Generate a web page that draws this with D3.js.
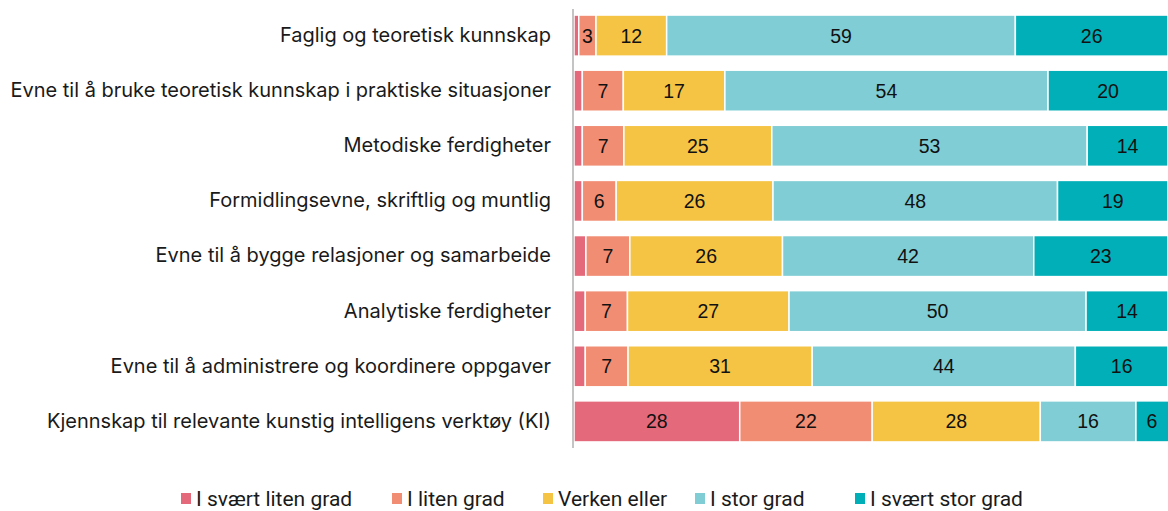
<!DOCTYPE html>
<html><head><meta charset="utf-8">
<script src="https://cdn.jsdelivr.net/npm/d3@7"></script>
<style>body{margin:0;background:#fff}svg{display:block}</style>
</head><body>
<svg id="c" width="1168" height="511"></svg>
<script>
const categories = [
  "Faglig og teoretisk kunnskap",
  "Evne til å bruke teoretisk kunnskap i praktiske situasjoner",
  "Metodiske ferdigheter",
  "Formidlingsevne, skriftlig og muntlig",
  "Evne til å bygge relasjoner og samarbeide",
  "Analytiske ferdigheter",
  "Evne til å administrere og koordinere oppgaver",
  "Kjennskap til relevante kunstig intelligens verktøy (KI)"
];
const seriesNames = ["I svært liten grad","I liten grad","Verken eller","I stor grad","I svært stor grad"];
const sværtLiten = [0.8, 1.4, 1.4, 1.4, 2.0, 1.9, 1.9, 27.9];
const liten      = [2.9, 6.9, 7.0, 5.7, 7.4, 7.1, 7.2, 22.3];
const verken     = [11.9, 17.1, 24.9, 26.4, 25.7, 27.2, 31.0, 28.3];
const stor       = [58.7, 54.4, 53.1, 47.9, 42.3, 50.0, 44.3, 16.1];
const sværtStor  = [25.7, 20.2, 13.6, 18.6, 22.6, 13.8, 15.6, 5.7];
const colors = ["#E46A7B","#F18D72","#F5C444","#80CDD5","#00AFB8"];

const series = [sværtLiten, liten, verken, stor, sværtStor];
const rows = categories.map((c,i)=>{
  const o = {cat:c};
  seriesNames.forEach((s,j)=>o[s]=series[j][i]);
  return o;
});
const stacked = d3.stack().keys(seriesNames)(rows);

const W = 1168;
const svg = d3.select("#c");
const x = d3.scaleLinear().domain([0,100]).range([574,1168]);
const y = d3.scaleBand().domain(categories).range([1,456]).paddingInner(0.255).paddingOuter(0.255);
const color = d3.scaleOrdinal().domain(seriesNames).range(colors);

const g = svg.append("g");
stacked.forEach(layer=>{
  const lg = g.append("g");
  lg.selectAll("rect").data(layer).join("rect")
    .attr("x", d=>x(d[0]))
    .attr("y", d=>y(d.data.cat))
    .attr("width", d=>Math.max(0, x(d[1])-x(d[0])))
    .attr("height", y.bandwidth())
    .attr("fill", color(layer.key))
    .attr("stroke","#fff").attr("stroke-width",1.5);
  lg.selectAll("text").data(layer.filter(d=>d[1]-d[0]>=2.5)).join("text")
    .attr("x", d=>(x(d[0])+Math.min(W, x(d[1])))/2)
    .attr("y", d=>y(d.data.cat)+y.bandwidth()/2)
    .attr("dy","0.36em")
    .attr("text-anchor","middle")
    .attr("font-family","'Liberation Sans', Arial, sans-serif")
    .attr("font-size",19.5)
    .attr("fill","#111")
    .text(d=>Math.round(d[1]-d[0]));
});

const yAxis = d3.axisLeft(y).tickSize(0).tickPadding(22);
const ax = svg.append("g").attr("transform","translate(573,0)").call(yAxis);
ax.select(".domain").remove();
ax.selectAll("text").attr("font-family","Inter, 'Noto Sans', sans-serif").attr("font-size",20).attr("fill","#1a1a1a");
svg.append("line").attr("x1",573).attr("x2",573).attr("y1",9).attr("y2",448)
  .attr("stroke","#c4c4c4").attr("stroke-width",2);

const legX = [181, 392, 543, 695, 855];
const leg = svg.append("g");
seriesNames.forEach((s,i)=>{
  const it = leg.append("g").attr("transform",`translate(${legX[i]},0)`);
  it.append("rect").attr("x",0).attr("y",493).attr("width",10).attr("height",11).attr("fill",colors[i]);
  it.append("text").attr("x",15).attr("y",506)
    .attr("font-family","Roboto, sans-serif")
    .attr("font-size",21).attr("fill","#1a1a1a").text(s);
});
</script>
</body></html>
